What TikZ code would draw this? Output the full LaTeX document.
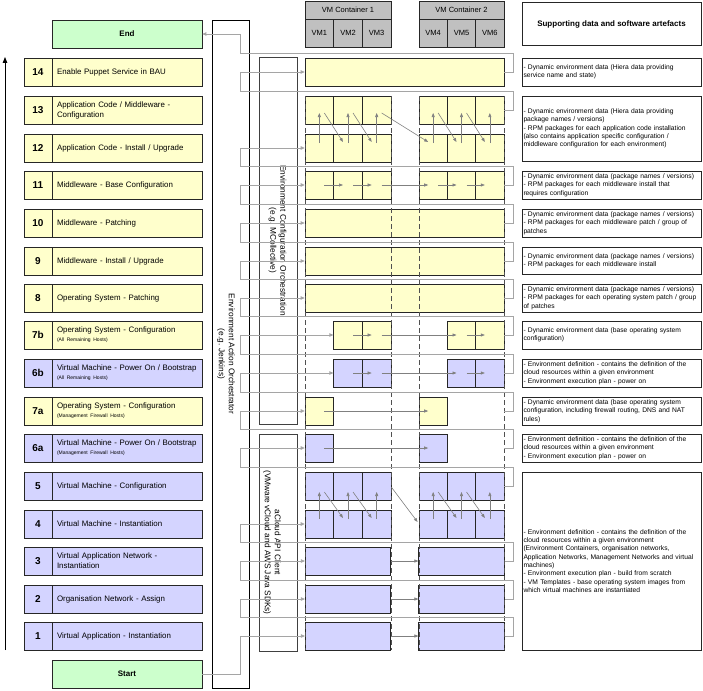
\documentclass[tikz,border=0pt]{standalone}
\usepackage{fontspec}
\setmainfont{Liberation Sans}
\usetikzlibrary{arrows.meta,calc}
\definecolor{yfill}{RGB}{255,255,204}
\definecolor{bfill}{RGB}{212,212,255}
\definecolor{gfill}{RGB}{204,255,204}
\definecolor{hgray}{RGB}{192,192,192}
\definecolor{conngray}{RGB}{165,165,165}
\definecolor{arrgray}{RGB}{128,128,128}
\definecolor{dashgray}{RGB}{80,80,80}

\newcommand{\steprow}[5]{%
  \node[numbox,fill=#4] (n#1) at (38,{#2+14}) {#3};
  \node[labbox,fill=#4] (l#1) at (127,{#2+14}) {#5};
}
\newcommand{\subl}[1]{\\[-1pt]{\fontsize{5}{6}\selectfont #1}}
\newcommand{\cellrow}[4]{\foreach \i/\x in #4 {\node[cell,fill=#3] (c#1-\i) at (\x,#2) {};}}
\newcommand{\supbox}[4]{\node[sbox, minimum height={#3-#2}] (#1) at (611.5,{(#2+#3)/2}) {#4};}
\def\six{1/319.33,2/348,3/376.67,4/433.17,5/461.5,6/489.83}
\def\four{2/348,3/376.67,5/461.5,6/489.83}
\def\two{1/319.33,4/433.17}

\begin{document}
\begin{tikzpicture}[x=1pt,y=-1pt,
  box/.style={draw=black!85, line width=0.7pt, inner sep=0pt},
  numbox/.style={box, minimum width=28pt, minimum height=28pt, font=\bfseries\fontsize{10}{12}\selectfont},
  labbox/.style={box, minimum width=150pt, minimum height=28pt, text width=140pt, inner xsep=5pt, align=left, font=\fontsize{7.9}{10}\selectfont},
  termbox/.style={box, fill=gfill, minimum width=150pt, minimum height=28pt, font=\bfseries\fontsize{8}{10}\selectfont},
  cell/.style={box, minimum width=28.5pt, minimum height=28pt},
  pairbox/.style={box, minimum width=85.5pt, minimum height=28pt},
  fullbox/.style={box, minimum width=199pt, minimum height=28pt},
  hdr/.style={box, fill=hgray, font=\fontsize{7.5}{9}\selectfont},
  sbox/.style={box, minimum width=179pt, text width=176pt, inner xsep=1.5pt, align=left, font=\fontsize{6.7}{8.3}\selectfont},
  orch/.style={draw=black, line width=0.7pt, inner sep=0pt},
  orchtxt/.style={rotate=-90, align=center, font=\fontsize{8.3}{10}\selectfont},
  dashln/.style={draw=dashgray, line width=0.8pt, dash pattern=on 5pt off 3pt},
  conn/.style={draw=conngray, line width=0.8pt, -{Triangle[length=4pt,width=3.5pt]}},
  plainconn/.style={draw=conngray, line width=0.8pt},
  iarr/.style={draw=arrgray, line width=0.6pt, -{Triangle[length=4pt,width=3pt]}}
]
\useasboundingbox (0,0) rectangle (703,690);

% ---- left progress arrow
\coordinate (la0) at (5,650);
\coordinate (la1) at (5,57);
\draw[line width=0.8pt, -{Triangle[length=6pt,width=4.5pt]}] (la0) -- (la1);

% ---- orchestrator frames
\node[orch, minimum width=37pt, minimum height=668pt] (act) at (230.5,354) {};
\node[orchtxt] (acttxt) at (226,354) {Environment Action Orchestrator\\(e.g. Jenkins)};
\node[orch, draw=black!75, minimum width=38pt, minimum height=367pt] (cfg) at (278,240.5) {};
\node[orchtxt] (cfgtxt) at (277.5,240.5) {Environment Configuration Orchestration\\(e.g. MCollective)};
\node[orch, draw=black!75, minimum width=38pt, minimum height=217pt] (api) at (278,542.5) {};
\node[orchtxt] (apitxt) at (272,542.5) {aCloud API Client\\(VMware vCloud and AWS Java SDKs)};

% ---- start / end
\node[termbox] (endn) at (127,34) {End};
\node[termbox] (startn) at (127,674) {Start};

% ---- step rows
\steprow{14}{58}{14}{yfill}{Enable Puppet Service in BAU}
\steprow{13}{96}{13}{yfill}{Application Code / Middleware -\\Configuration}
\steprow{12}{134}{12}{yfill}{Application Code - Install / Upgrade}
\steprow{11}{171}{11}{yfill}{Middleware - Base Configuration}
\steprow{10}{209}{10}{yfill}{Middleware - Patching}
\steprow{9}{247}{9}{yfill}{Middleware - Install / Upgrade}
\steprow{8}{284}{8}{yfill}{Operating System - Patching}
\steprow{7b}{321}{7b}{yfill}{Operating System - Configuration\subl{(All Remaining Hosts)}}
\steprow{6b}{359}{6b}{bfill}{Virtual Machine - Power On / Bootstrap\subl{(All Remaining Hosts)}}
\steprow{7a}{397}{7a}{yfill}{Operating System - Configuration\subl{(Management Firewall Hosts)}}
\steprow{6a}{434}{6a}{bfill}{Virtual Machine - Power On / Bootstrap\subl{(Management Firewall Hosts)}}
\steprow{5}{472}{5}{bfill}{Virtual Machine - Configuration}
\steprow{4}{510}{4}{bfill}{Virtual Machine - Instantiation}
\steprow{3}{547}{3}{bfill}{Virtual Application Network -\\Instantiation}
\steprow{2}{585}{2}{bfill}{Organisation Network - Assign}
\steprow{1}{622}{1}{bfill}{Virtual Application - Instantiation}

% ---- VM header
\node[hdr, minimum width=86pt, minimum height=18pt] (vc1) at (348,10) {VM Container 1};
\node[hdr, minimum width=85pt, minimum height=18pt] (vc2) at (461.5,10) {VM Container 2};
\foreach \i/\x in \six {\node[hdr, minimum width=28.5pt, minimum height=28pt] (vm\i) at (\x,33) {VM\i};}

% ---- supporting header
\node[box, minimum width=179pt, minimum height=43pt, font=\bfseries\fontsize{8}{10}\selectfont] (suph) at (611.5,24) {Supporting data and software artefacts};

% ---- VM region boxes
\node[fullbox, fill=yfill] (f14) at (404.5,72) {};
\cellrow{13}{110}{yfill}{\six}
\cellrow{12}{148}{yfill}{\six}
\cellrow{11}{185}{yfill}{\six}
\node[fullbox, fill=yfill] (f10) at (404.5,223) {};
\node[fullbox, fill=yfill] (f9) at (404.5,261) {};
\node[fullbox, fill=yfill] (f8) at (404.5,298) {};
\cellrow{7b}{335}{yfill}{\four}
\cellrow{6b}{373}{bfill}{\four}
\cellrow{7a}{411}{yfill}{\two}
\cellrow{6a}{448}{bfill}{\two}
\cellrow{5}{486}{bfill}{\six}
\cellrow{4}{524}{bfill}{\six}
\foreach \r/\y in {3/561,2/599,1/636}{
  \node[pairbox, fill=bfill] (p\r a) at (348,\y) {};
  \node[pairbox, fill=bfill] (p\r b) at (461.5,\y) {};
}

% ---- dashed container guides
\foreach \x in {305,391,419,504}{\draw[dashln] (\x,96) -- (\x,650);}

% ---- internal arrows
\foreach \i in {1,...,6}{\draw[iarr] ([yshift=5pt]c12-\i.center) -- ([yshift=-3pt]c13-\i.center);}
\foreach \i/\j in {1/2,2/3,3/4,4/5,5/6}{\draw[iarr] ([xshift=5pt,yshift=-3pt]c13-\i.center) -- ([xshift=-5pt,yshift=6pt]c12-\j.center);}
\foreach \i/\j in {1/2,2/3,3/4,4/5,5/6}{\draw[iarr] ([xshift=5pt]c11-\i.center) -- ([xshift=-5pt]c11-\j.center);}
\foreach \r in {7b,6b}{\foreach \i/\j in {2/3,3/5,5/6}{\draw[iarr] ([xshift=5pt]c\r-\i.center) -- ([xshift=-5pt]c\r-\j.center);}}
\foreach \r in {7a,6a}{\draw[iarr] ([xshift=5pt]c\r-1.center) -- ([xshift=-5pt]c\r-4.center);}
\foreach \i in {1,...,6}{\draw[iarr] ([yshift=5pt]c4-\i.center) -- ([yshift=-6pt]c5-\i.center);}
\foreach \i/\j in {1/2,2/3,4/5,5/6}{\draw[iarr] ([xshift=5pt,yshift=-6pt]c5-\i.center) -- ([xshift=-5pt,yshift=6pt]c4-\j.center);}
\draw[iarr] ([yshift=-1pt]c5-3.east) -- ([xshift=-1pt,yshift=2pt]c4-4.west);
\foreach \r in {3,2,1}{\draw[iarr] (p\r a.east) -- (p\r b.west);}

% ---- orchestration connectors
\coordinate (e6a) at (504,448);
\coordinate (e7a) at (504,411);
\draw[conn] (startn.east) -- (240,674) |- (p1a.west);
\draw[conn] (p1b.east) -- ++(9,0) |- (240,617) |- (p2a.west);
\draw[conn] (p2b.east) -- ++(9,0) |- (240,580) |- (p3a.west);
\draw[conn] (p3b.east) -- ++(9,0) |- (240,542) |- (c4-1.west);
\draw[conn] (c5-6.east) -- ++(9,0) |- (240,467) |- (c6a-1.west);
\draw[conn] (e6a) -- ++(9,0) |- (240,429) |- (c7a-1.west);
\draw[conn] (e7a) -- ++(9,0) |- (240,392) |- (c6b-2.west);
\draw[conn] (c6b-6.east) -- ++(9,0) |- (240,354) |- (c7b-2.west);
\draw[conn] (c7b-6.east) -- ++(9,0) |- (240,316) |- (f8.west);
\draw[conn] (f8.east) -- ++(9,0) |- (240,279) |- (f9.west);
\draw[conn] (f9.east) -- ++(9,0) |- (240,242) |- (f10.west);
\draw[conn] (f10.east) -- ++(9,0) |- (240,204) |- (c11-1.west);
\draw[conn] (c11-6.east) -- ++(9,0) |- (240,166) |- (c12-1.west);
\draw[conn] (c13-6.east) -- ++(9,0) |- (240,91) |- (f14.west);
\draw[conn] (f14.east) -- ++(9,0) |- (240,53) |- (endn.east);

% ---- supporting artefact boxes
\supbox{s14}{58}{86}{- Dynamic environment data (Hiera data providing\\service name and state)}
\supbox{s13}{96}{161}{- Dynamic environment data (Hiera data providing\\package names / versions)\\- RPM packages for each application code installation\\(also contains application specific configuration /\\middleware configuration for each environment)}
\supbox{s11}{171}{199}{- Dynamic environment data (package names / versions)\\- RPM packages for each middleware install that\\requires configuration}
\supbox{s10}{209}{237}{- Dynamic environment data (package names / versions)\\- RPM packages for each middleware patch / group of\\patches}
\supbox{s9}{247}{274}{- Dynamic environment data (package names / versions)\\- RPM packages for each middleware install}
\supbox{s8}{284}{312}{- Dynamic environment data (package names / versions)\\- RPM packages for each operating system patch / group\\of patches}
\supbox{s7b}{321}{349}{- Dynamic environment data (base operating system\\configuration)}
\supbox{s6b}{359}{387}{- Environment definition - contains the definition of the\\cloud resources within a given environment\\- Environment execution plan - power on}
\supbox{s7a}{397}{425}{- Dynamic environment data (base operating system\\configuration, including firewall routing, DNS and NAT\\rules)}
\supbox{s6a}{434}{462}{- Environment definition - contains the definition of the\\cloud resources within a given environment\\- Environment execution plan - power on}
\supbox{s5}{472}{650}{- Environment definition - contains the definition of the\\cloud resources within a given environment\\(Environment Containers, organisation networks,\\Application Networks, Management Networks and virtual\\machines)\\- Environment execution plan - build from scratch\\- VM Templates - base operating system images from\\which virtual machines are instantiated}
\end{tikzpicture}
\end{document}
